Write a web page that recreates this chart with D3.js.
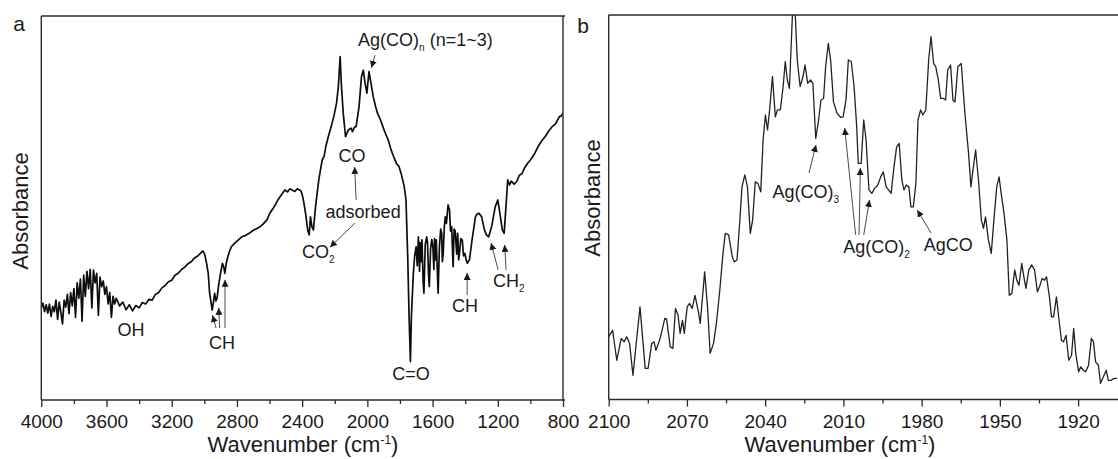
<!DOCTYPE html>
<html><head><meta charset="utf-8">
<script src="https://cdn.jsdelivr.net/npm/d3@7"></script>
<style>
body{margin:0;background:#fff;}
text{font-family:"Liberation Sans",Arial,sans-serif;fill:#1a1a1a;}
</style></head>
<body><svg id="c" width="1118" height="459"></svg>
<script>
// ---------- Panel a: FTIR spectrum (4000-800 cm-1) ----------
const wavenumberA = [4000,3990,3980,3970,3960,3950,3940,3930,3920,3910,3900,3890,3880,3870,3860,3850,3840,3830,3820,3810,3800,3790,3780,3770,3760,3750,3740,3730,3720,3710,3700,3690,3680,3670,3660,3650,3640,3630,3620,3610,3600,3590,3580,3570,3560,3550,3540,3520,3500,3480,3460,3440,3420,3400,3380,3360,3340,3320,3300,3280,3260,3240,3220,3200,3180,3160,3140,3120,3100,3080,3060,3040,3020,3009,2998,2986,2976,2968,2961,2952,2944,2937,2929,2922,2912,2904,2896,2889,2880,2874,2866,2856,2845,2834,2815,2791,2770,2750,2725,2700,2680,2659,2640,2616,2600,2585,2572,2550,2528,2506,2490,2475,2462,2445,2430,2408,2400,2392,2379,2366,2357,2349,2340,2331,2318,2298,2277,2265,2255,2240,2222,2205,2189,2178,2167,2160,2148,2134,2125,2117,2100,2091,2080,2069,2051,2036,2025,2014,2003,1990,1981,1972,1964,1950,1938,1920,1905,1890,1872,1855,1839,1820,1806,1790,1774,1763,1752,1744,1736,1730,1718,1710,1701,1694,1687,1680,1676,1670,1665,1658,1653,1645,1636,1631,1625,1620,1612,1605,1598,1592,1588,1582,1577,1572,1566,1558,1550,1544,1540,1535,1528,1522,1515,1505,1496,1490,1483,1474,1468,1461,1452,1446,1440,1435,1427,1418,1410,1402,1394,1387,1374,1366,1358,1337,1326,1315,1299,1282,1270,1256,1238,1216,1200,1187,1172,1161,1150,1139,1128,1117,1100,1084,1068,1051,1035,1018,1000,985,970,953,930,909,888,866,845,822,810,800];
const absorbanceA = [24.0,25.2,23.0,24.8,22.6,25.0,21.8,24.4,23.0,26.0,21.0,25.5,22.8,19.8,26.0,24.2,27.5,22.5,28.0,24.5,29.0,21.5,30.5,26.5,31.5,20.5,32.5,27.0,33.5,29.0,34.0,24.0,33.8,30.5,33.0,22.0,32.0,29.5,31.0,27.5,29.5,25.0,28.0,21.5,27.0,25.0,26.5,24.5,25.5,23.5,24.8,23.2,24.6,24.0,25.4,25.0,26.2,26.0,27.5,28.0,29.2,29.8,30.8,31.2,32.5,33.0,34.0,34.6,35.5,36.0,37.0,37.5,38.4,38.8,38.0,35.5,33.0,28.0,26.0,23.4,25.5,27.8,25.8,26.5,30.0,32.1,34.0,35.6,34.5,33.0,35.5,37.3,38.8,39.9,40.8,41.7,42.5,42.8,43.4,44.2,44.6,45.1,45.8,46.9,48.5,49.5,50.3,52.0,53.4,54.7,54.2,55.0,54.7,54.3,55.0,54.5,53.5,52.0,48.6,44.3,43.0,47.7,45.1,44.3,50.3,57.3,62.5,63.5,66.0,68.5,71.2,74.0,77.3,81.6,89.4,82.5,74.7,68.6,69.5,70.3,70.8,69.9,71.0,71.2,76.4,84.2,85.9,82.5,79.9,85.5,83.3,81.0,79.0,76.5,74.7,73.0,71.2,69.5,67.7,65.2,63.4,61.5,60.8,58.5,55.6,52.1,36.5,21.7,10.0,21.7,33.0,37.5,39.9,35.0,42.5,33.5,41.0,36.0,41.7,31.0,27.8,40.5,42.5,41.0,33.0,29.5,39.5,41.8,39.9,34.0,42.0,36.5,41.7,35.0,27.8,40.0,44.5,43.4,36.0,38.0,45.0,47.7,46.0,50.8,49.5,44.0,45.1,34.7,44.5,44.0,38.0,43.4,36.5,38.2,42.0,41.7,37.5,38.2,36.5,35.6,36.5,39.0,41.7,47.7,48.5,48.6,47.7,44.3,43.0,42.5,45.1,50.3,52.1,48.6,44.3,43.4,50.3,57.3,56.0,57.0,56.2,56.9,58.5,59.0,60.5,61.6,62.5,63.4,64.5,66.0,67.5,68.6,70.0,71.2,72.0,73.8,74.0,74.7];

// ---------- Panel b: zoom 2100-1905 cm-1 ----------
const wavenumberB = [2100.0,2098.5,2096.9,2095.2,2094.1,2093.1,2092.0,2090.7,2088.0,2086.0,2084.9,2083.5,2082.6,2081.9,2080.5,2079.8,2078.5,2077.8,2076.4,2075.4,2074.4,2073.4,2072.6,2071.7,2071.0,2069.9,2069.0,2068.0,2066.9,2065.5,2064.9,2063.2,2062.1,2061.1,2059.8,2058.7,2057.4,2056.3,2055.3,2054.0,2052.6,2051.9,2050.8,2049.7,2048.9,2047.8,2046.8,2045.7,2044.8,2043.8,2042.8,2041.7,2040.8,2039.9,2039.1,2038.3,2037.2,2036.1,2035.3,2034.2,2033.1,2032.3,2031.5,2030.7,2029.5,2028.5,2027.7,2026.6,2025.5,2024.7,2023.7,2022.6,2021.7,2020.6,2019.5,2018.6,2017.6,2016.8,2015.8,2014.9,2013.8,2012.4,2011.1,2010.1,2009.0,2008.1,2007.0,2005.9,2004.9,2004.3,2003.2,2002.2,2001.3,2000.2,1999.1,1998.0,1996.8,1995.7,1994.7,1993.6,1992.7,1991.7,1990.6,1989.6,1988.6,1987.6,1986.8,1985.9,1984.9,1984.1,1983.2,1982.2,1981.4,1980.4,1979.5,1978.4,1977.3,1976.4,1975.4,1974.6,1973.6,1972.7,1971.6,1970.8,1970.0,1968.9,1968.0,1967.2,1966.1,1964.8,1963.4,1962.0,1961.1,1960.3,1959.3,1958.2,1957.1,1956.3,1955.5,1954.4,1953.3,1952.2,1951.2,1950.3,1949.5,1948.4,1947.3,1946.4,1945.4,1944.3,1943.5,1942.7,1941.6,1940.8,1940.0,1938.9,1937.8,1936.7,1935.6,1934.8,1933.8,1932.9,1932.1,1931.0,1930.2,1929.4,1928.3,1927.3,1926.4,1925.6,1924.6,1923.6,1922.5,1921.7,1920.9,1919.8,1919.0,1917.9,1917.1,1916.0,1914.9,1914.1,1913.3,1912.2,1911.4,1910.3,1909.2,1908.4,1907.3,1906.2,1905.1];
const absorbanceB = [16.3,18.0,10.2,15.9,15.0,16.3,14.6,6.3,24.1,8.1,8.1,14.6,15.0,12.8,15.4,17.2,21.1,20.9,13.7,13.3,23.7,21.9,17.2,20.6,17.2,24.1,25.0,23.7,27.1,22.4,19.8,33.2,24.1,12.0,14.6,19.8,28.4,37.1,43.2,42.8,37.1,35.8,36.3,46.7,55.3,58.4,55.3,43.2,46.7,56.6,56.2,54.0,67.5,74.0,70.1,75.3,84.0,73.5,75.3,75.3,81.4,87.9,83.1,80.9,100.8,100.8,88.3,81.4,84.0,87.0,82.2,83.1,82.2,67.9,72.7,77.9,78.3,86.6,92.6,88.3,77.4,74.4,73.4,73.5,77.9,88.3,87.9,81.4,70.9,61.4,61.4,72.7,67.5,54.5,53.6,54.9,55.8,57.9,59.2,55.3,54.5,53.6,60.5,65.7,66.6,57.1,54.5,55.8,55.3,50.1,50.1,56.2,72.7,75.3,74.0,75.3,88.3,94.4,87.4,86.6,83.1,78.3,78.3,77.9,85.7,87.0,77.9,77.4,86.6,87.4,74.4,64.0,55.3,59.7,64.9,57.1,46.7,44.5,47.5,41.5,38.0,47.5,55.3,57.9,53.6,48.4,41.5,27.1,27.6,33.7,31.0,29.7,35.4,31.9,28.9,33.7,35.0,33.7,28.0,29.3,31.5,31.0,31.9,26.7,21.5,21.5,26.7,20.6,15.4,15.0,16.7,10.2,11.5,18.5,12.0,7.2,8.5,7.6,7.2,8.9,15.9,15.0,9.8,8.9,4.2,5.9,7.6,5.0,5.0,5.5,5.5];

// tick values
const ticksA = [4000,3600,3200,2800,2400,2000,1600,1200,800];
const minorA = [3800,3400,3000,2600,2200,1800,1400,1000];
const ticksB = [2100,2070,2040,2010,1980,1950,1920];
const minorB = [2085,2055,2025,1995,1965,1935];

// annotations [label, subscript, rest, wavenumber, absorbance, anchor]
const labelsA = [
  ["Ag(CO)","n"," (n=1~3)",2057,92.2,"start"],
  ["CO","","",2094,62.0,"middle"],
  ["adsorbed","","",2026,47.4,"middle"],
  ["CO","2","",2401,37.0,"start"],
  ["OH","","",3450,16.7,"middle"],
  ["CH","","",2891,13.3,"middle"],
  ["C=O","","",1732,5.2,"middle"],
  ["CH","","",1401,22.9,"middle"],
  ["CH","2","",1229,29.4,"start"]
];
// arrows [fromWn, fromAbs, toWn, toAbs]
const arrowsA = [
  [1953,89.8,1975,86.5],
  [2069,52.1,2078,60.7],
  [2075,46.1,2229,39.8],
  [2928,18.75,2950,22.1],
  [2906,18.75,2912,24.0],
  [2873,18.75,2873,31.3],
  [1388,27.3,1388,33.1],
  [1198,33.9,1241,40.9],
  [1149,33.9,1158,40.4]
];
const labelsB = [
  ["Ag(CO)","3","",2037.2,52.4,"start"],
  ["Ag(CO)","2","",2010.1,38.1,"start"],
  ["AgCO","","",1979.2,38.6,"start"]
];
const arrowsB = [
  [2023.2,58.9,2020.5,66.2],
  [2005.3,42.8,2009.5,70.6],
  [2004.0,42.8,2003.5,60.2],
  [2002.2,42.8,2000.0,51.9],
  [1976.4,43.3,1981.7,49.3]
];

const svg = d3.select("#c");
const defs = svg.append("defs");
defs.append("marker").attr("id","ah").attr("viewBox","0 0 10 10")
  .attr("refX",10).attr("refY",5).attr("markerWidth",7).attr("markerHeight",7)
  .attr("markerUnits","userSpaceOnUse").attr("orient","auto")
  .append("path").attr("d","M0,0L10,5L0,10Z").attr("fill","#1a1a1a");

function panel(cfg){
  const {id, wn, ab, xDom, xRange, yRange, ticks, minor, labels, arrows, lineW, lineC, tag, tagPos, ytitlePos, xtitleX, rightFrame} = cfg;
  const x = d3.scaleLinear().domain(xDom).range(xRange);
  const y = d3.scaleLinear().domain([0,100]).range(yRange);
  const g = svg.append("g");
  defs.append("clipPath").attr("id","clip"+id).append("rect")
    .attr("x",xRange[0]).attr("y",yRange[1]).attr("width",xRange[1]-xRange[0]).attr("height",yRange[0]-yRange[1]);
  const pts = wn.map((w,i)=>[w,ab[i]]);
  g.append("path").datum(pts).attr("clip-path","url(#clip"+id+")")
    .attr("fill","none").attr("stroke",lineC).attr("stroke-width",lineW).attr("stroke-linejoin","round")
    .attr("d",d3.line().x(d=>x(d[0])).y(d=>y(d[1])));
  // frame
  const fr = g.append("g").attr("stroke","#2a2a2a").attr("stroke-width",1.4).attr("fill","none");
  fr.append("line").attr("x1",xRange[0]).attr("x2",xRange[1]+2).attr("y1",yRange[1]).attr("y2",yRange[1]);
  fr.append("line").attr("x1",xRange[0]).attr("x2",xRange[0]).attr("y1",yRange[1]).attr("y2",yRange[0]);
  if(rightFrame) fr.append("line").attr("x1",xRange[1]).attr("x2",xRange[1]).attr("y1",yRange[1]).attr("y2",yRange[0]);
  // axes
  const ax = g.append("g").attr("transform",`translate(0,${yRange[0]})`)
    .call(d3.axisBottom(x).tickValues(ticks).tickFormat(d3.format("d")).tickSize(7).tickPadding(8).tickSizeOuter(0));
  ax.select(".domain").attr("stroke","#2a2a2a").attr("stroke-width",1.4).attr("d",`M${xRange[0]},0H${xRange[1]+2}`);
  ax.selectAll(".tick line").attr("stroke","#2a2a2a").attr("stroke-width",1.3);
  ax.selectAll(".tick text").attr("font-size","19px").attr("fill","#1a1a1a").style("font-family","'Liberation Sans',Arial,sans-serif");
  const axm = g.append("g").attr("transform",`translate(0,${yRange[0]})`)
    .call(d3.axisBottom(x).tickValues(minor).tickFormat("").tickSize(4).tickSizeOuter(0));
  axm.select(".domain").remove();
  axm.selectAll(".tick line").attr("stroke","#2a2a2a").attr("stroke-width",1.3);
  // titles
  const xt = g.append("text").attr("x",xtitleX).attr("y",452).attr("text-anchor","middle").attr("font-size","22px");
  xt.append("tspan").text("Wavenumber (cm");
  xt.append("tspan").attr("font-size","12px").attr("dy",-8).text("-1");
  xt.append("tspan").attr("dy",8).text(")");
  g.append("text").attr("transform",`translate(${ytitlePos[0]},${ytitlePos[1]}) rotate(-90)`)
    .attr("text-anchor","middle").attr("dy","0.35em").attr("font-size","22px").text("Absorbance");
  g.append("text").attr("x",tagPos[0]).attr("y",tagPos[1]).attr("text-anchor","middle").attr("font-size","21px").text(tag);
  // annotations
  labels.forEach(l=>{
    const t = g.append("text").attr("x",x(l[3])).attr("y",y(l[4])).attr("text-anchor",l[5]).attr("font-size","18px");
    t.append("tspan").text(l[0]);
    if(l[1]) t.append("tspan").attr("font-size","10px").attr("dy",5).text(l[1]);
    if(l[2]) t.append("tspan").attr("dy",l[1]?-5:0).text(l[2]);
  });
  arrows.forEach(a=>{
    g.append("line").attr("x1",x(a[0])).attr("y1",y(a[1])).attr("x2",x(a[2])).attr("y2",y(a[3]))
      .attr("stroke","#333").attr("stroke-width",0.9).attr("marker-end","url(#ah)");
  });
}

panel({id:"a", wn:wavenumberA, ab:absorbanceA, xDom:[4000,800], xRange:[41.3,563], yRange:[400,16],
  ticks:ticksA, minor:minorA, labels:labelsA, arrows:arrowsA, lineW:1.7, lineC:"#0d0d0d", tag:"a", tagPos:[19,31],
  ytitlePos:[20,211], xtitleX:303, rightFrame:true});
panel({id:"b", wn:wavenumberB, ab:absorbanceB, xDom:[2100,1904.7], xRange:[608.7,1118], yRange:[399.5,15],
  ticks:ticksB, minor:minorB, labels:labelsB, arrows:arrowsB, lineW:1.3, lineC:"#222", tag:"b", tagPos:[583,33],
  ytitlePos:[592,198], xtitleX:840, rightFrame:false});
</script></body></html>
